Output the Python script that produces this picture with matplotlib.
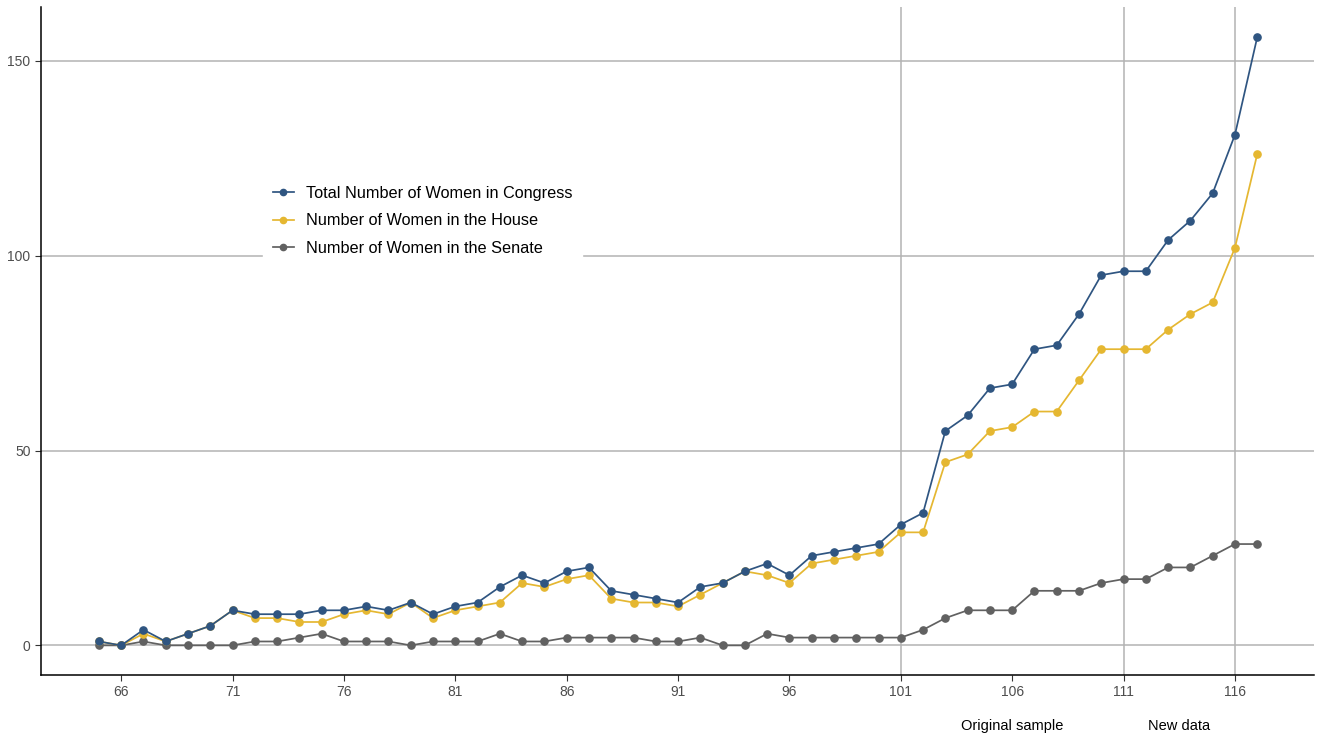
import matplotlib
matplotlib.use("Agg")
import matplotlib.pyplot as plt

plt.rcParams['font.family'] = ['Liberation Sans', 'DejaVu Sans']

congress = list(range(65, 118))
total = [1, 0, 4, 1, 3, 5, 9, 8, 8, 8, 9, 9, 10, 9, 11, 8, 10, 11, 15, 18,
         16, 19, 20, 14, 13, 12, 11, 15, 16, 19, 21, 18, 23, 24, 25, 26, 31, 34,
         55, 59, 66, 67, 76, 77, 85, 95, 96, 96, 104, 109, 116, 131, 156]
house = [1, 0, 3, 1, 3, 5, 9, 7, 7, 6, 6, 8, 9, 8, 11, 7, 9, 10, 11, 16,
         15, 17, 18, 12, 11, 11, 10, 13, 16, 19, 18, 16, 21, 22, 23, 24, 29, 29,
         47, 49, 55, 56, 60, 60, 68, 76, 76, 76, 81, 85, 88, 102, 126]
senate = [0, 0, 1, 0, 0, 0, 0, 1, 1, 2, 3, 1, 1, 1, 0, 1, 1, 1, 3, 1,
          1, 2, 2, 2, 2, 1, 1, 2, 0, 0, 3, 2, 2, 2, 2, 2, 2, 4,
          7, 9, 9, 9, 14, 14, 14, 16, 17, 17, 20, 20, 23, 26, 26]
series_labels = ["Total Number of Women in Congress",
                 "Number of Women in the House",
                 "Number of Women in the Senate"]
colors = ["#2f5581", "#e5b731", "#616161"]
vline_positions = [101, 111, 116]
x_ticks = [66, 71, 76, 81, 86, 91, 96, 101, 106, 111, 116]
y_ticks = [0, 50, 100, 150]
annotations = [(106, "Original sample"), (113.5, "New data")]

fig = plt.figure(figsize=(13.18, 7.38), dpi=100)
ax = fig.add_axes([41/1318, 1-675/738, (1314-41)/1318, (675-7)/738])

grid_col = "#b3b3b3"
for yv in y_ticks:
    ax.axhline(yv, color=grid_col, lw=1.1, zorder=1)
for xv in vline_positions:
    ax.axvline(xv, color=grid_col, lw=1.1, zorder=1)

data = [total, house, senate]
zorders = [5, 4, 3]
for vals, lab, col, z in zip(data, series_labels, colors, zorders):
    ax.plot(congress, vals, color=col, lw=1.25, marker='o', markersize=5.2,
            label=lab, zorder=z)

ax.set_xlim(62.4, 119.55)
ax.set_ylim(-7.6, 163.8)
ax.set_xticks(x_ticks)
ax.set_yticks(y_ticks)
ax.tick_params(axis='both', colors="#333333", labelcolor="#4d4d4d",
               labelsize=10, length=4, width=0.8)
for s in ['top', 'right']:
    ax.spines[s].set_visible(False)
for s in ['left', 'bottom']:
    ax.spines[s].set_linewidth(1.1)
    ax.spines[s].set_color("black")

for xv, txt in annotations:
    ax.text(xv, -20.8, txt, ha='center', va='center', fontsize=10.5,
            color="black", clip_on=False)

leg = ax.legend(loc='upper left', bbox_to_anchor=(263/1318, 1-176/738),
                bbox_transform=fig.transFigure, frameon=True, fancybox=False,
                fontsize=11.7, handlelength=1.3, handletextpad=0.75,
                labelspacing=0.78, borderpad=0.6, borderaxespad=0)
leg.get_frame().set_facecolor("white")
leg.get_frame().set_edgecolor("white")
leg.get_frame().set_alpha(1)
leg.set_zorder(10)
for h in leg.legend_handles:
    h.set_markersize(4.5)

fig.savefig("out.png", dpi=100, facecolor="white")
